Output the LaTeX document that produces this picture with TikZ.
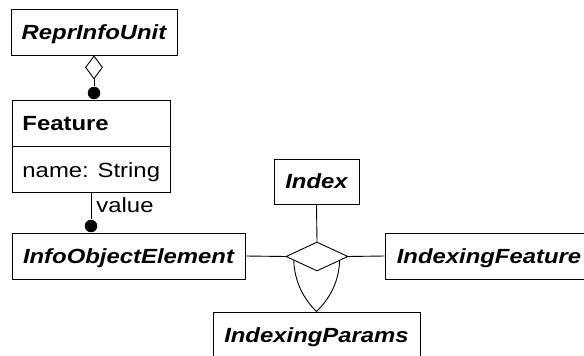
\documentclass[tikz,border=0pt]{standalone}
\usepackage{fontspec}
\setmainfont{Liberation Sans}[FakeStretch=1.165]
\usetikzlibrary{shapes.geometric,calc}

\begin{document}
\begin{tikzpicture}[x=1pt,y=-1pt,line width=0.9pt,
  box/.style={draw,rectangle,inner sep=0pt,minimum height=46pt,
    text height=14.5pt,text depth=0pt},
  cls/.style={box,font=\fontsize{20.5}{24}\selectfont\bfseries\itshape},
  plain/.style={inner sep=0pt,font=\fontsize{20.5}{24}\selectfont},
  dot/.style={circle,fill=black,draw=none,inner sep=0pt,minimum size=12.5pt},
  rel/.style={diamond,draw,fill=white,inner sep=0pt}]
\useasboundingbox (0,0) rectangle (584,356);
\clip (0,0) rectangle (584,356);

% classes
\node[cls,minimum width=166pt] (repr) at (94,32) {ReprInfoUnit};
\node[box,minimum width=158pt,minimum height=92pt] (feature) at (91,146) {};
\draw (feature.west) -- (feature.east);
\node[plain,anchor=base west,font=\fontsize{20.5}{24}\selectfont\bfseries] (fname) at (22,130) {Feature};
\node[plain,anchor=base west] (fattr) at (22,177) {name: String};
\node[cls,minimum width=233pt] (ioe) at (128.5,256) {InfoObjectElement};
\node[cls,minimum width=85pt,minimum height=45pt] (index) at (316.5,181.5) {Index};
\node[cls,minimum width=208pt] (ifeat) at (489,256) {IndexingFeature};
\node[cls,minimum width=207pt] (params) at (316.5,335) {IndexingParams};

% composition of Feature in ReprInfoUnit
\node[rel,minimum width=17pt,minimum height=23pt,anchor=north] (agg) at (repr.south) {};
\node[dot] (dot1) at (94,93) {};
\draw (agg.south) -- (dot1);

% Feature value
\node[dot] (dot2) at (91,226) {};
\draw (feature.south) -- (dot2);
\node[plain,anchor=base west] (vlabel) at (96,212) {value};

% ternary association with parameter class
\node[rel,minimum width=62pt,minimum height=29pt] (assoc) at (317,256.5) {};
\draw (ioe.east) -- (assoc.west);
\draw (assoc.east) -- (ifeat.west);
\draw (index.south) -- (assoc.north);
\coordinate (pl) at ($(assoc.west)!0.26!(assoc.south)$);
\coordinate (pr) at ($(assoc.east)!0.28!(assoc.south)$);
\draw (pl) .. controls ($(pl)+(1,26)$) and ($(params.north)+(-9,-9)$) .. (params.north)
      .. controls ($(params.north)+(9,-9)$) and ($(pr)+(-1,26)$) .. (pr);
\end{tikzpicture}
\end{document}
